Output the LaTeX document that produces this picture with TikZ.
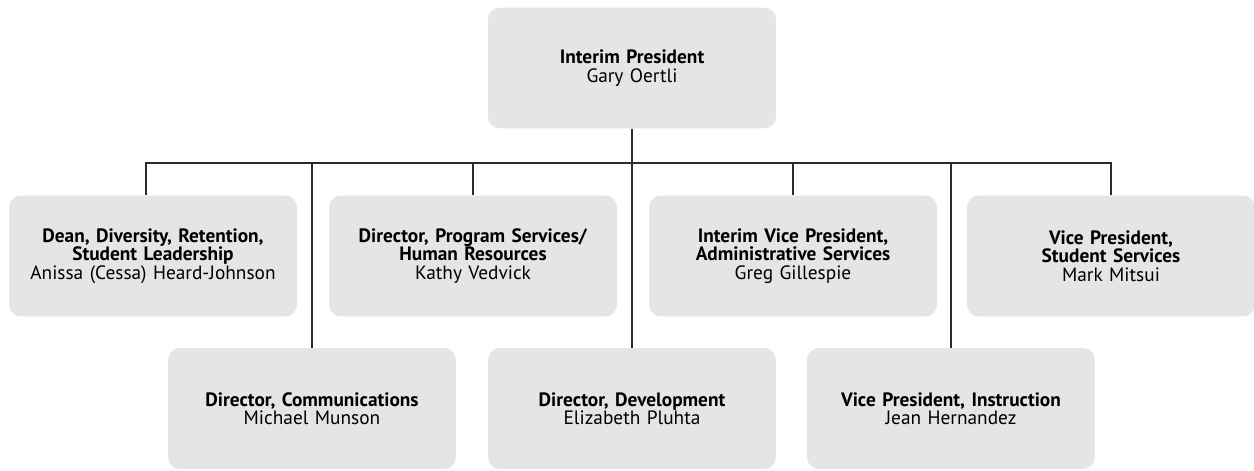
\documentclass[tikz,border=0pt]{standalone}
\usepackage{fontspec}
\setmainfont{PT Sans}
\usetikzlibrary{positioning}
\definecolor{boxgray}{HTML}{E4E5E7}
\definecolor{linegray}{HTML}{2B2B2B}

\begin{document}
\begin{tikzpicture}[x=0.02cm, y=-0.02cm,
	post/.style={fill=boxgray, rounded corners=0.24cm, minimum width=5.76cm, minimum height=2.42cm,
		text width=5.6cm, align=center, inner sep=0pt, font=\fontsize{11}{10.4}\selectfont},
	tie/.style={draw=linegray, line width=0.85pt}]
	\useasboundingbox (0,0) rectangle (1254,470);

	\node[post] (pres) at (632,68) {\textbf{Interim President}\\Gary Oertli};

	\node[post] (dean) at (153,256) {\textbf{Dean, Diversity, Retention,}\\\textbf{Student Leadership}\\Anissa (Cessa) Heard-Johnson};
	\node[post] (prog) at (473,256) {\textbf{Director, Program Services/}\\\textbf{Human Resources}\\Kathy Vedvick};
	\node[post] (admin) at (793,256) {\textbf{Interim Vice President,}\\\textbf{Administrative Services}\\Greg Gillespie};
	\node[post] (stud) at (1111,256) {\textbf{Vice President,}\\\textbf{Student Services}\\Mark Mitsui};

	\node[post] (comm) at (312,408.5) {\textbf{Director, Communications}\\Michael Munson};
	\node[post] (dev) at (632,408.5) {\textbf{Director, Development}\\Elizabeth Pluhta};
	\node[post] (instr) at (951,408.5) {\textbf{Vice President, Instruction}\\Jean Hernandez};

	\coordinate (hub) at (632,163);

	\draw[tie] (pres.south) -- (dev.north);
	\draw[tie] ([xshift=-0.14cm]dean.north) |- (hub);
	\foreach \n in {prog,admin,stud,comm,instr}
		\draw[tie] (\n.north) |- (hub);
\end{tikzpicture}
\end{document}
